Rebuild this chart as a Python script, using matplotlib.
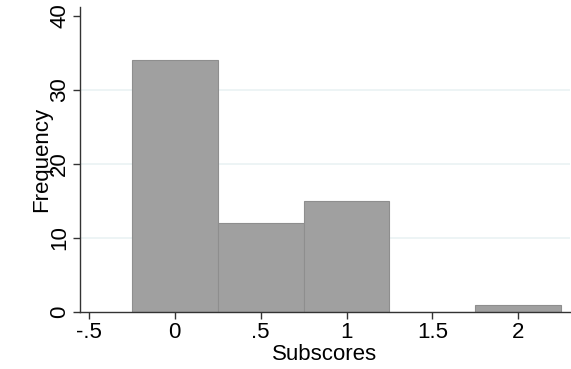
import numpy as np
import matplotlib
matplotlib.use('Agg')
from matplotlib import pyplot as plt

plt.rcParams['font.family'] = ['Liberation Sans', 'DejaVu Sans']

# histogram bins (centers) and counts
bin_centers = [0, 0.5, 1, 1.5, 2]
counts = [34, 12, 15, 0, 1]
bin_width = 0.5
xticks = [-0.5, 0, 0.5, 1, 1.5, 2]
xtick_labels = ['-.5', '0', '.5', '1', '1.5', '2']
yticks = [0, 10, 20, 30, 40]

fig = plt.figure(figsize=(5.71, 3.69), dpi=100)
ax = fig.add_axes([0.140, 0.1545, 0.858, 0.827])

for y in [10, 20, 30]:
    ax.axhline(y, color='#eaf2f3', lw=1.2, zorder=0)

ax.bar(bin_centers, counts, width=bin_width, color='#a0a0a0',
       edgecolor='#8e8e8e', linewidth=0.8, zorder=2)

ax.set_xlim(-0.552, 2.3)
ax.set_ylim(0, 41.2)
ax.set_xticks(xticks)
ax.set_xticklabels(xtick_labels)
ax.set_yticks(yticks)
ax.set_yticklabels([str(v) for v in yticks], rotation=90, va='center')

for s in ['top', 'right']:
    ax.spines[s].set_visible(False)
for s in ['left', 'bottom']:
    ax.spines[s].set_color('#333333')
    ax.spines[s].set_linewidth(1.0)

ax.tick_params(axis='both', labelsize=16, color='#333333', length=5, width=1)
ax.tick_params(axis='x', pad=2)
ax.tick_params(axis='y', pad=2)
ax.set_xlabel('Subscores', fontsize=16, labelpad=1)
ax.set_ylabel('Frequency', fontsize=16, labelpad=-2)

fig.savefig('out.png', dpi=100)
